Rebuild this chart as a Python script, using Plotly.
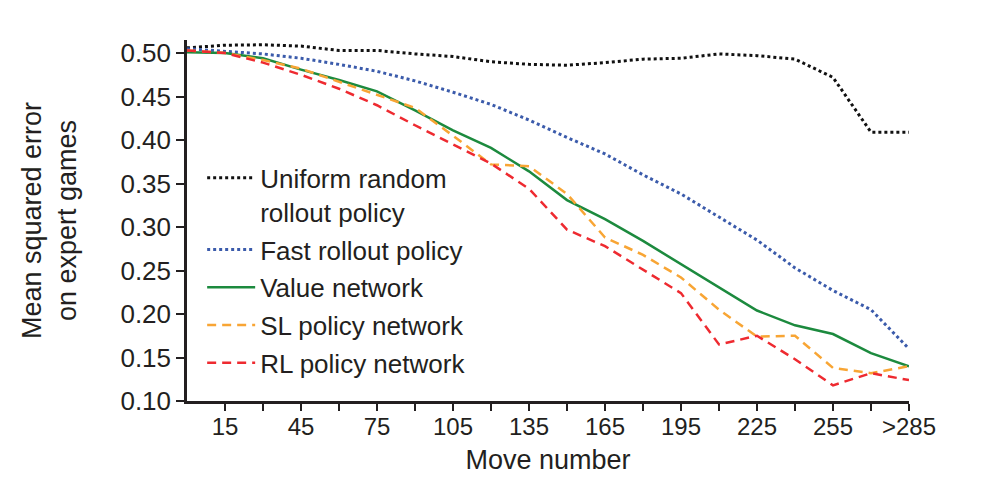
import plotly.graph_objects as go

moves = [0, 15, 30, 45, 60, 75, 90, 105, 120, 135, 150, 165, 180, 195, 210, 225, 240, 255, 270, 285]

uniform_random = [0.506, 0.509, 0.5095, 0.508, 0.503, 0.503, 0.499, 0.496, 0.490, 0.487,
                  0.486, 0.489, 0.493, 0.494, 0.499, 0.497, 0.493, 0.472, 0.409, 0.409]
fast_rollout = [0.505, 0.502, 0.499, 0.494, 0.487, 0.479, 0.468, 0.455, 0.441, 0.423,
                0.403, 0.384, 0.360, 0.338, 0.311, 0.285, 0.253, 0.227, 0.205, 0.160]
value_network = [0.501, 0.500, 0.494, 0.481, 0.469, 0.456, 0.434, 0.411, 0.391, 0.364,
                 0.331, 0.309, 0.284, 0.257, 0.231, 0.204, 0.187, 0.177, 0.155, 0.140]
sl_policy = [0.503, 0.500, 0.492, 0.482, 0.467, 0.452, 0.437, 0.405, 0.372, 0.370,
             0.338, 0.288, 0.268, 0.242, 0.205, 0.174, 0.175, 0.138, 0.132, 0.140]
rl_policy = [0.503, 0.500, 0.489, 0.475, 0.459, 0.440, 0.417, 0.395, 0.373, 0.344,
             0.297, 0.278, 0.251, 0.224, 0.165, 0.175, 0.148, 0.118, 0.132, 0.124]

x_tickvals = [15, 30, 45, 60, 75, 90, 105, 120, 135, 150, 165, 180, 195, 210, 225, 240, 255, 270, 285]
x_ticktext = ["15", "", "45", "", "75", "", "105", "", "135", "", "165", "", "195", "", "225", "", "255", "", ">285"]
y_tickvals = [0.10, 0.15, 0.20, 0.25, 0.30, 0.35, 0.40, 0.45, 0.50]

series = [
    ("Uniform random<br>rollout policy", uniform_random, "#111111", "3px,3px", 3),
    ("Fast rollout policy", fast_rollout, "#3b5bab", "3px,3px", 3),
    ("Value network", value_network, "#1c8a3e", "solid", 2.5),
    ("SL policy network", sl_policy, "#f8a534", "9px,6px", 2.5),
    ("RL policy network", rl_policy, "#ee2a30", "9px,6px", 2.5),
]

INK = "#231f20"
FONT = "Liberation Sans, Arial, sans-serif"

fig = go.Figure()
for i, (name, vals, color, dash, w) in enumerate(series):
    fig.add_trace(go.Scatter(
        x=moves, y=vals, mode="lines", name=name, legendgroup=f"g{i}",
        line=dict(color=color, width=w, dash=dash),
    ))

fig.update_layout(
    width=1000, height=480,
    paper_bgcolor="white", plot_bgcolor="white",
    margin=dict(l=179, r=99, t=32, b=87),
    font=dict(family=FONT, size=24, color=INK),
    showlegend=True,
    legend=dict(
        x=0.021, y=0.683, xanchor="left", yanchor="top",
        bgcolor="rgba(0,0,0,0)", font=dict(size=26, color=INK),
        tracegroupgap=1, valign="top", itemwidth=48,
    ),
    xaxis=dict(
        range=[0, 285], showgrid=False, zeroline=False,
        showline=True, linecolor=INK, linewidth=2.5,
        ticks="outside", ticklen=7, tickwidth=2, tickcolor=INK,
        tickvals=x_tickvals, ticktext=x_ticktext,
        tickfont=dict(size=24, color=INK), ticklabelstandoff=-5,
        title=dict(text="Move number", font=dict(size=27, color=INK), standoff=12),
    ),
    yaxis=dict(
        range=[0.10, 0.515], showgrid=False, zeroline=False,
        showline=True, linecolor=INK, linewidth=2.5,
        ticks="outside", ticklen=8, tickwidth=2, tickcolor=INK,
        tickvals=y_tickvals, tickformat=".2f",
        tickfont=dict(size=26, color=INK),
        title=dict(text="Mean squared error<br>on expert games", font=dict(size=27, color=INK), standoff=36),
    ),
)

fig.write_html("out.html")
